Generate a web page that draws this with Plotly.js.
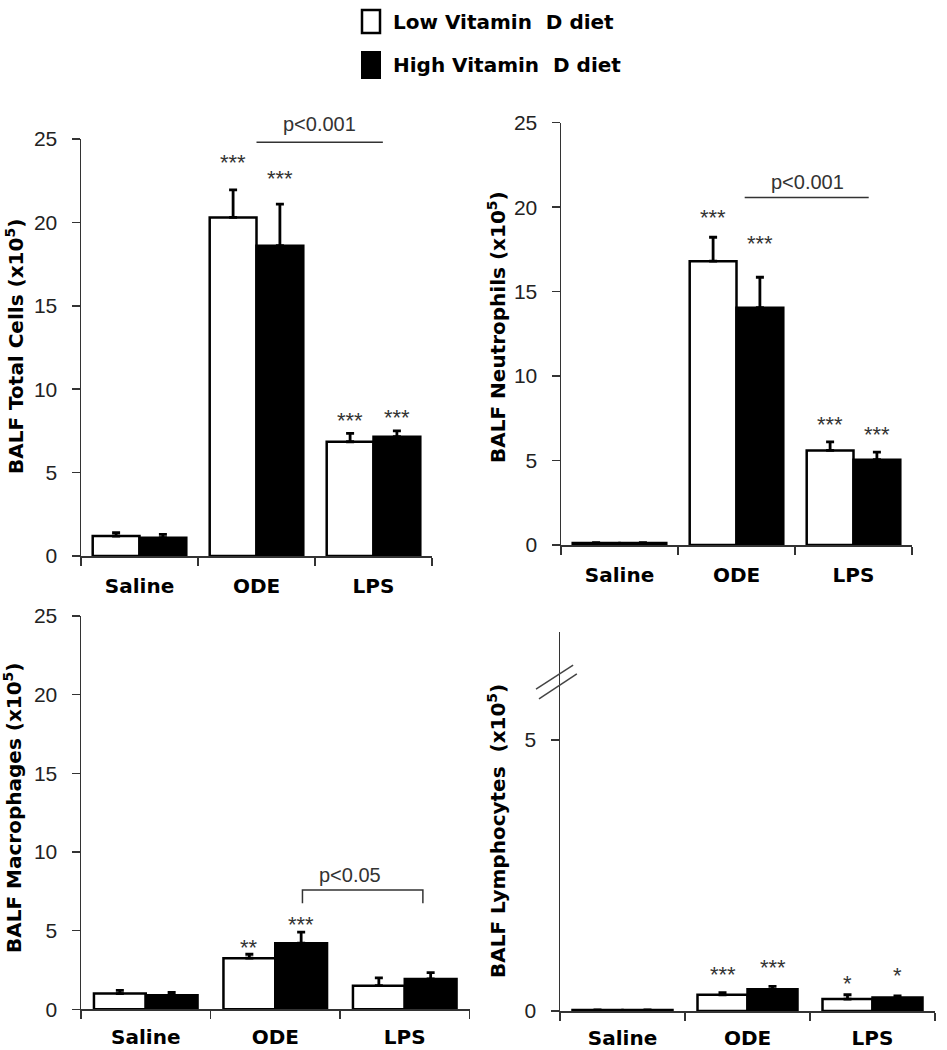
<!DOCTYPE html>
<html>
<head>
<meta charset="utf-8">
<script src="https://cdn.plot.ly/plotly-3.0.1.min.js"></script>
<style>html,body{margin:0;padding:0;background:#fff;}</style>
</head>
<body>
<div id="chart" style="width:947px;height:1050px;"></div>
<script>
// ---------- data ----------
const categories = ['Saline', 'ODE', 'LPS'];
const seriesNames = ['Low Vitamin\u00a0 D diet', 'High Vitamin\u00a0 D diet'];

// BALF Total Cells (x10^5)
const totalLow = [1.2, 20.3, 6.85];
const totalLowErr = [0.2, 1.65, 0.5];
const totalHigh = [1.1, 18.6, 7.15];
const totalHighErr = [0.2, 2.5, 0.35];
const totalLowStars = ['', '***', '***'];
const totalLowStarY = [null, 23.9, 8.4];
const totalHighStars = ['', '***', '***'];
const totalHighStarY = [null, 22.95, 8.6];

// BALF Neutrophils (x10^5)
const neutLow = [0.12, 16.8, 5.6];
const neutLowErr = [0.02, 1.42, 0.5];
const neutHigh = [0.12, 14.05, 5.05];
const neutHighErr = [0.02, 1.8, 0.45];
const neutLowStars = ['', '***', '***'];
const neutLowStarY = [null, 19.7, 7.44];
const neutHighStars = ['', '***', '***'];
const neutHighStarY = [null, 18.15, 6.85];

// BALF Macrophages (x10^5)
const macLow = [1.0, 3.25, 1.5];
const macLowErr = [0.2, 0.25, 0.5];
const macHigh = [0.9, 4.2, 1.93];
const macHighErr = [0.17, 0.7, 0.4];
const macLowStars = ['', '**', ''];
const macLowStarY = [null, 4.26, null];
const macHighStars = ['', '***', ''];
const macHighStarY = [null, 5.68, null];

// BALF Lymphocytes (x10^5)
const lymLow = [0.02, 0.3, 0.22];
const lymLowErr = [0, 0.04, 0.08];
const lymHigh = [0.02, 0.4, 0.25];
const lymHighErr = [0, 0.055, 0.03];
const lymLowStars = ['', '***', '*'];
const lymLowStarY = [null, 0.76, 0.6];
const lymHighStars = ['', '***', '*'];
const lymHighStarY = [null, 0.9, 0.74];

// y-axis ranges and tick values
const yRanges = [[0, 25], [0, 25], [0, 25], [0, 7]];
const yTicks = [[0, 5, 10, 15, 20, 25], [0, 5, 10, 15, 20, 25], [0, 5, 10, 15, 20, 25], [0, 5]];
const yTitles = ['BALF Total Cells', 'BALF Neutrophils', 'BALF Macrophages', 'BALF Lymphocytes\u00a0'];

// significance comparisons: [x start, x end], line y, drop y (bracket), label, label x, label y
const sigTotal = {x: [1.0, 2.08], y: 24.8, drop: null, label: 'p<0.001', lx: 1.54, ly: 25.9};
const sigNeut = {x: [1.07, 2.13], y: 20.57, drop: null, label: 'p<0.001', lx: 1.61, ly: 21.5};
const sigMac = {x: [1.21, 2.14], y: 7.59, drop: 6.74, label: 'p<0.05', lx: 1.58, ly: 8.54};

// ---------- helpers ----------
const W = 947, H = 1050;
const panels = [
  {low: totalLow, lowErr: totalLowErr, high: totalHigh, highErr: totalHighErr,
   ls: totalLowStars, lsy: totalLowStarY, hs: totalHighStars, hsy: totalHighStarY, sig: sigTotal,
   px: [81, 432], py: [139, 556], tx: 15, ty: 347, standoff: 11},
  {low: neutLow, lowErr: neutLowErr, high: neutHigh, highErr: neutHighErr,
   ls: neutLowStars, lsy: neutLowStarY, hs: neutHighStars, hsy: neutHighStarY, sig: sigNeut,
   px: [561, 912], py: [122.7, 545], tx: 497, ty: 327, standoff: 11},
  {low: macLow, lowErr: macLowErr, high: macHigh, highErr: macHighErr,
   ls: macLowStars, lsy: macLowStarY, hs: macHighStars, hsy: macHighStarY, sig: sigMac,
   px: [81, 469.5], py: [616, 1009.3], tx: 13, ty: 808, standoff: 9},
  {low: lymLow, lowErr: lymLowErr, high: lymHigh, highErr: lymHighErr,
   ls: lymLowStars, lsy: lymLowStarY, hs: lymHighStars, hsy: lymHighStarY, sig: null,
   px: [560, 935], py: [631.6, 1011], tx: 497, ty: 831, standoff: 8}
];

const data = [];
const annotations = [];
const shapes = [];
const layout = {
  width: W, height: H,
  margin: {l: 0, r: 0, t: 0, b: 0},
  paper_bgcolor: '#fff', plot_bgcolor: '#fff',
  showlegend: false,
  barmode: 'group', bargap: 0.2, bargroupgap: 0,
  font: {family: 'Liberation Sans, Arial, sans-serif', color: '#333'}
};

const zeros = n => new Array(n).fill(0);

panels.forEach((p, i) => {
  const n = i + 1;
  const xa = n === 1 ? 'x' : 'x' + n;
  const ya = n === 1 ? 'y' : 'y' + n;
  const xKey = n === 1 ? 'xaxis' : 'xaxis' + n;
  const yKey = n === 1 ? 'yaxis' : 'yaxis' + n;
  const pxPerUnit = (p.py[1] - p.py[0]) / (yRanges[i][1] - yRanges[i][0]);

  layout[xKey] = {
    domain: [p.px[0] / W, p.px[1] / W], anchor: ya,
    type: 'category', categoryorder: 'array', categoryarray: categories,
    range: [-0.5, 2.5], tickson: 'boundaries',
    ticks: 'outside', ticklen: 8, tickwidth: 1.5, tickcolor: '#333',
    showline: true, linecolor: '#333', linewidth: 1.5,
    showgrid: false, zeroline: false, fixedrange: true,
    tickfont: {family: 'DejaVu Sans', size: 20, color: '#000', weight: 'bold'},
    ticklabelstandoff: p.standoff
  };
  layout[yKey] = {
    domain: [1 - p.py[1] / H, 1 - p.py[0] / H], anchor: xa,
    range: yRanges[i], tickvals: yTicks[i],
    ticks: 'outside', ticklen: 8, tickwidth: 1.5, tickcolor: '#333',
    showline: true, linecolor: '#333', linewidth: 1.5,
    showgrid: false, zeroline: false, fixedrange: true,
    tickfont: {family: 'Liberation Sans', size: 21, color: '#222'},
    ticklabelstandoff: 10
  };

  data.push({
    type: 'bar', x: categories, y: p.low, name: seriesNames[0],
    xaxis: xa, yaxis: ya, showlegend: false,
    marker: {color: '#fff', line: {color: '#000', width: 2.5}},
    error_y: {type: 'data', symmetric: false, array: p.lowErr, arrayminus: zeros(3),
              color: '#000', thickness: 2.8, width: 4}
  });
  data.push({
    type: 'bar', x: categories, y: p.high, name: seriesNames[1],
    xaxis: xa, yaxis: ya, showlegend: false,
    marker: {color: '#000', line: {color: '#000', width: 2.5}},
    error_y: {type: 'data', symmetric: false, array: p.highErr, arrayminus: zeros(3),
              color: '#000', thickness: 2.8, width: 4}
  });

  // stars
  categories.forEach((c, k) => {
    if (p.ls[k]) annotations.push({xref: xa, yref: ya, x: k - 0.2, y: p.lsy[k], text: p.ls[k],
      showarrow: false, yshift: -5, font: {family: 'Liberation Sans', size: 22, color: '#333'}});
    if (p.hs[k]) annotations.push({xref: xa, yref: ya, x: k + 0.2, y: p.hsy[k], text: p.hs[k],
      showarrow: false, yshift: -5, font: {family: 'Liberation Sans', size: 22, color: '#333'}});
  });

  // significance line / bracket
  if (p.sig) {
    const s = p.sig;
    let path;
    if (s.drop === null) {
      path = `M ${s.x[0]},${s.y} L ${s.x[1]},${s.y}`;
    } else {
      path = `M ${s.x[0]},${s.drop} L ${s.x[0]},${s.y} L ${s.x[1]},${s.y} L ${s.x[1]},${s.drop}`;
    }
    shapes.push({type: 'path', xref: xa, yref: ya, path: path,
      line: {color: '#333', width: 1.5}});
    // keep the label anchor inside the axis range; lift it with a pixel shift if needed
    const yMax = yRanges[i][1];
    const ay = Math.min(s.ly, yMax);
    const shift = (s.ly - ay) * pxPerUnit;
    annotations.push({xref: xa, yref: ya, x: s.lx, y: ay, yshift: shift, text: s.label, showarrow: false,
      font: {family: 'Liberation Sans', size: 20, color: '#333'}});
  }

  // y axis title
  annotations.push({
    xref: 'paper', yref: 'paper', x: p.tx / W, y: 1 - p.ty / H,
    xanchor: 'center', yanchor: 'middle', textangle: -90, showarrow: false,
    text: '<b>' + yTitles[i] + ' (x10<sup>5</sup>)</b>',
    font: {family: 'DejaVu Sans', size: 20, color: '#000'}
  });
});

// axis break marks on lymphocyte panel
shapes.push({type: 'line', xref: 'x4 domain', yref: 'y4', x0: -0.064, x1: 0.035, y0: 5.94, y1: 6.38,
  line: {color: '#444', width: 1.5}});
shapes.push({type: 'line', xref: 'x4 domain', yref: 'y4', x0: -0.056, x1: 0.045, y0: 5.76, y1: 6.22,
  line: {color: '#444', width: 1.5}});

// legend (drawn manually)
shapes.push({type: 'rect', xref: 'paper', yref: 'paper', x0: 362 / W, x1: 380 / W,
  y0: 1 - 33 / H, y1: 1 - 10 / H, fillcolor: '#fff', line: {color: '#000', width: 2.5}});
shapes.push({type: 'rect', xref: 'paper', yref: 'paper', x0: 362 / W, x1: 380 / W,
  y0: 1 - 78 / H, y1: 1 - 52 / H, fillcolor: '#000', line: {color: '#000', width: 2}});
annotations.push({xref: 'paper', yref: 'paper', x: 391 / W, y: 1 - 21.7 / H, xanchor: 'left', yanchor: 'middle',
  text: '<b>' + seriesNames[0] + '</b>', showarrow: false, font: {family: 'DejaVu Sans', size: 20, color: '#000'}});
annotations.push({xref: 'paper', yref: 'paper', x: 391 / W, y: 1 - 65 / H, xanchor: 'left', yanchor: 'middle',
  text: '<b>' + seriesNames[1] + '</b>', showarrow: false, font: {family: 'DejaVu Sans', size: 20, color: '#000'}});

layout.annotations = annotations;
layout.shapes = shapes;

Plotly.newPlot('chart', data, layout, {displayModeBar: false, staticPlot: true});
</script>
</body>
</html>
